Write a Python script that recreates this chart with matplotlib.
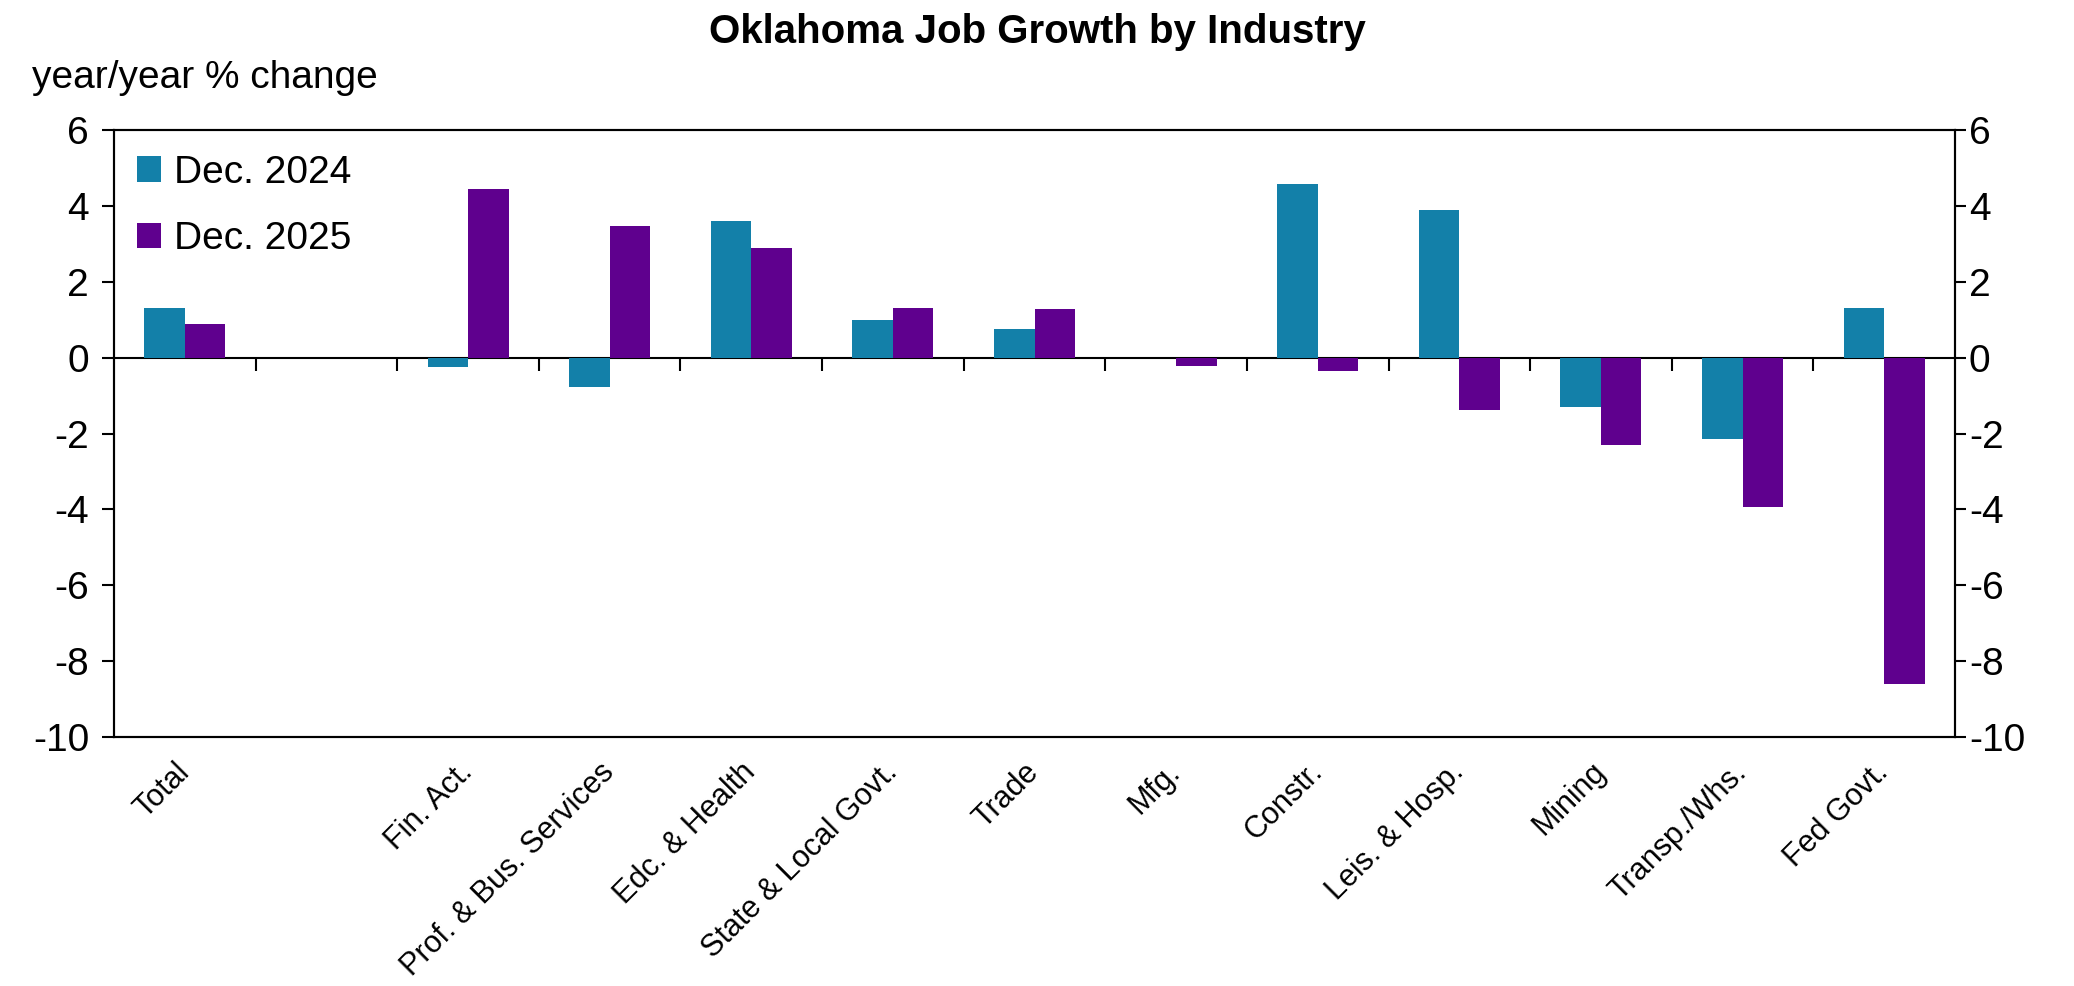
import matplotlib
matplotlib.use("Agg")
import matplotlib.pyplot as plt
import numpy as np

categories = ["Total", "", "Fin. Act.", "Prof. & Bus. Services", "Edc. & Health",
              "State & Local Govt.", "Trade", "Mfg.", "Constr.", "Leis. & Hosp.",
              "Mining", "Transp./Whs.", "Fed Govt."]
dec_2024 = [1.3, np.nan, -0.25, -0.77, 3.6, 1.0, 0.77, 0.0, 4.58, 3.89, -1.30, -2.13, 1.32]
dec_2025 = [0.9, np.nan, 4.44, 3.47, 2.9, 1.32, 1.29, -0.22, -0.34, -1.38, -2.30, -3.93, -8.59]
series_labels = ["Dec. 2024", "Dec. 2025"]
yticks = [-10, -8, -6, -4, -2, 0, 2, 4, 6]
title = "Oklahoma Job Growth by Industry"
ylabel = "year/year % change"

c2024 = "#1380A9"
c2025 = "#5F008E"

plt.rcParams["font.family"] = ["Liberation Sans", "DejaVu Sans"]

fig = plt.figure(figsize=(20.74, 9.86), dpi=100)
ax = fig.add_axes([0.055, 0.2525, 0.8876, 0.6155])

x = np.arange(len(categories))
w = 0.286
ax.bar(x - w / 2, dec_2024, width=w, color=c2024, label=series_labels[0], zorder=2)
ax.bar(x + w / 2, dec_2025, width=w, color=c2025, label=series_labels[1], zorder=2)

ymin, ymax = yticks[0], yticks[-1]
ax.set_ylim(ymin, ymax)
ax.set_xlim(-0.5, len(categories) - 0.5)
ax.set_yticks(yticks)
ax.set_yticklabels([str(t) for t in yticks])
ax.tick_params(axis="y", which="both", direction="out", length=9, width=1.5,
               labelsize=28, pad=9, left=True, right=False)

# right-hand axis
ax2 = ax.twinx()
ax2.set_ylim(ymin, ymax)
ax2.set_yticks(yticks)
ax2.set_yticklabels([str(t) for t in yticks])
ax2.tick_params(axis="y", direction="out", length=8, width=1.5, labelsize=28, pad=2)
for s in ax2.spines.values():
    s.set_linewidth(1.5)

ax.set_xticks(x)
ax.set_xticklabels(categories, rotation=45, ha="right", va="center",
                   rotation_mode="anchor", fontsize=22)
ax.tick_params(axis="x", length=0, pad=22)

for s in ax.spines.values():
    s.set_linewidth(1.5)
    s.set_color("black")

# zero line with category separator ticks
zero_frac = (0 - ymin) / (ymax - ymin)
sec = ax.secondary_xaxis(zero_frac)
sec.set_xticks(x[:-1] + 0.5)
sec.set_xticklabels([])
sec.tick_params(axis="x", direction="in", length=9, width=1.5)
for s in sec.spines.values():
    s.set_linewidth(1.5)

leg = ax.legend(loc="upper left", bbox_to_anchor=(0.004, 0.985), frameon=False,
                fontsize=28, handlelength=0.63, handleheight=0.63,
                handletextpad=0.33, labelspacing=0.78, borderaxespad=0)

fig.text(0.5, 0.968, title, ha="center", va="center", fontsize=29, fontweight="bold",
         family=["Liberation Sans Narrow", "Liberation Sans", "DejaVu Sans"])
fig.text(0.0155, 0.921, ylabel, ha="left", va="center", fontsize=28)

fig.savefig("out.png", dpi=100, facecolor="white")
